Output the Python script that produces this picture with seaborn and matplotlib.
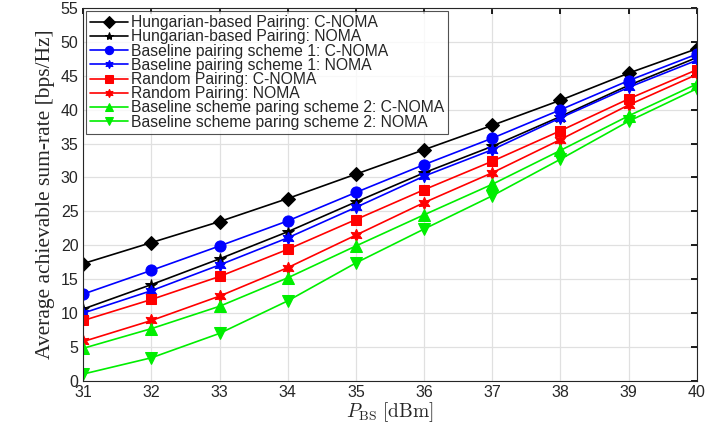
import matplotlib
matplotlib.use("Agg")
import matplotlib.pyplot as plt
import seaborn as sns
import pandas as pd

# transmit power of the BS [dBm]
p_bs = [31, 32, 33, 34, 35, 36, 37, 38, 39, 40]

hung_cnoma = [17.3, 20.4, 23.5, 26.9, 30.5, 34.1, 37.7, 41.4, 45.4, 49.0]
hung_noma = [10.6, 14.2, 18.0, 22.0, 26.4, 30.7, 34.6, 39.0, 43.6, 47.7]
base1_cnoma = [12.8, 16.3, 19.9, 23.6, 27.8, 31.9, 35.8, 40.0, 44.3, 48.2]
base1_noma = [10.0, 13.3, 17.1, 21.1, 25.6, 30.2, 34.1, 38.8, 43.3, 47.3]
rand_cnoma = [8.9, 12.0, 15.4, 19.4, 23.8, 28.2, 32.4, 36.9, 41.6, 45.9]
rand_noma = [5.8, 8.9, 12.5, 16.7, 21.5, 26.3, 30.7, 35.6, 40.7, 45.2]
base2_cnoma = [4.8, 7.7, 11.0, 15.2, 19.9, 24.5, 29.0, 34.0, 39.1, 43.8]
base2_noma = [1.0, 3.4, 7.0, 11.8, 17.4, 22.4, 27.3, 32.7, 38.3, 43.1]

labels = [
    "Hungarian-based Pairing: C-NOMA",
    "Hungarian-based Pairing: NOMA",
    "Baseline pairing scheme 1: C-NOMA",
    "Baseline pairing scheme 1: NOMA",
    "Random Pairing: C-NOMA",
    "Random Pairing: NOMA",
    "Baseline scheme paring scheme 2: C-NOMA",
    "Baseline scheme paring scheme 2: NOMA",
]
series = [hung_cnoma, hung_noma, base1_cnoma, base1_noma,
          rand_cnoma, rand_noma, base2_cnoma, base2_noma]
colors = ["black", "black", "blue", "blue", "red", "red", "#00ee00", "#00ee00"]
markers = ["D", "*", "o", (6, 1, 0), "s", (6, 1, 0), "^", "v"]
msizes = [7, 9, 8, 9, 7, 9, 9, 9]

sns.set_theme(style="whitegrid")
plt.rcParams["font.family"] = ["Liberation Sans", "DejaVu Sans"]
plt.rcParams["mathtext.fontset"] = "cm"

fig, ax = plt.subplots(figsize=(7.06, 4.25), dpi=100)
fig.subplots_adjust(left=0.118, right=0.987, top=0.981, bottom=0.104)

for lab, vals, c, m, ms in zip(labels, series, colors, markers, msizes):
    df = pd.DataFrame({"x": p_bs, "y": vals})
    sns.lineplot(data=df, x="x", y="y", ax=ax, color=c, marker=m,
                 markersize=ms, markeredgecolor=c, linewidth=1.2, label=lab)

ax.set_xlim(31, 40)
ax.set_ylim(0, 55)
ax.set_xticks(p_bs)
ax.set_yticks(range(0, 56, 5))
ax.tick_params(direction="in", labelsize=11.5, length=4, top=True, right=True,
               colors="black", labelcolor="#262626")
ax.tick_params(axis="x", pad=3)
ax.grid(True, color="#e0e0e0", linewidth=0.9)
for s in ax.spines.values():
    s.set_color("#262626")
    s.set_linewidth(0.8)

ax.set_xlabel(r"$P_{\mathrm{BS}}$ $[\mathrm{dBm}]$", fontsize=14, labelpad=0)
ax.set_ylabel("Average achievable sum-rate [bps/Hz]", fontsize=15.5,
              family=["Liberation Serif", "DejaVu Serif"], labelpad=4)

leg = ax.legend(loc="upper left", fontsize=11.3, frameon=True, fancybox=False,
                handlelength=2.4, handletextpad=0.2, borderpad=0.25,
                labelspacing=-0.05, borderaxespad=0.2)
leg.get_frame().set_edgecolor("#262626")
leg.get_frame().set_linewidth(0.8)
for h in leg.legend_handles:
    h.set_markersize(6)

plt.savefig("out.png", dpi=100)
plt.close()
